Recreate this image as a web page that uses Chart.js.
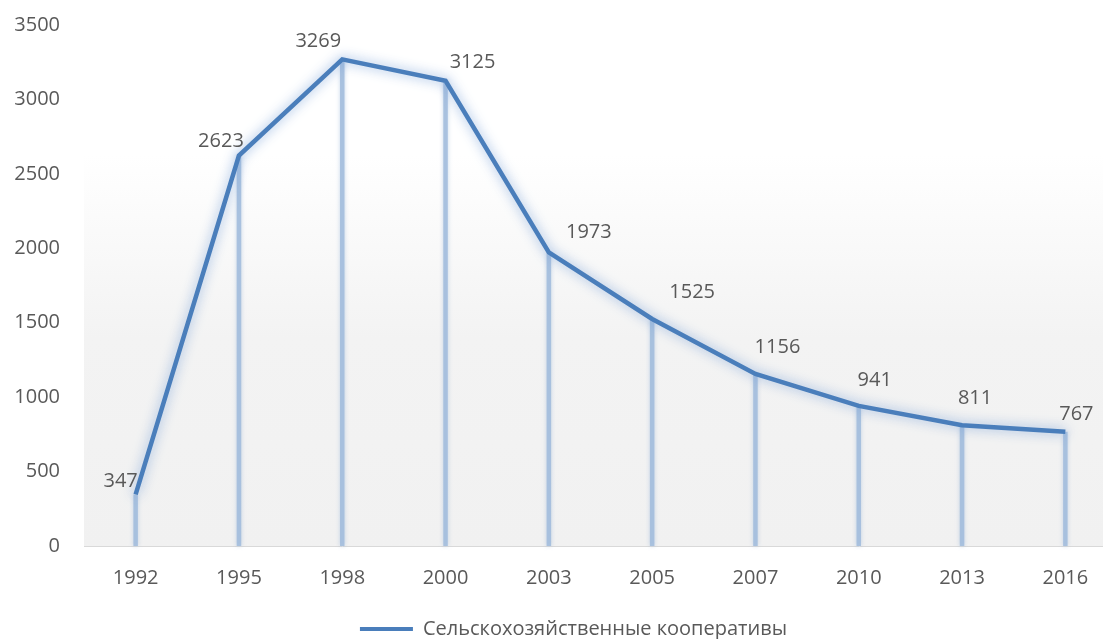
<!DOCTYPE html>
<html>
<head>
<meta charset="utf-8">
<script src="https://cdn.jsdelivr.net/npm/chart.js@4"></script>
<style>
    html, body { margin: 0; padding: 0; background: #ffffff; overflow: hidden; }
    #wrap { position: absolute; left: 0; top: 0; width: 1117px; height: 639px; }
</style>
</head>
<body>
<div id="wrap"><canvas id="grafico"></canvas></div>
<script>
// Данные графика
const годы = ['1992', '1995', '1998', '2000', '2003', '2005', '2007', '2010', '2013', '2016'];
const кооперативы = [347, 2623, 3269, 3125, 1973, 1525, 1156, 941, 811, 767];
const деленияY = [0, 500, 1000, 1500, 2000, 2500, 3000, 3500];
const названиеРяда = 'Сельскохозяйственные кооперативы';

// Смещения подписей относительно точек (в пикселях)
const смещенияПодписей = [
    [-15, -13], [-18, -14], [-24, -18], [27, -19], [40, -20],
    [40, -27], [22, -27], [16, -26], [13, -27], [11, -18]
];

const цвета = {
    линия: '#4a7ebb',
    свечение: 'rgba(120, 160, 215, 0.85)',
    опоры: 'rgba(160, 187, 220, 0.85)',
    текст: '#595959',
    ось: '#d9d9d9'
};

const шрифт = '"Open Sans", "Noto Sans", sans-serif';

// Фон области построения с градиентом
const фонОбласти = {
    id: 'fonOblasti',
    beforeDraw(chart) {
        const { ctx, chartArea: a } = chart;
        const g = ctx.createLinearGradient(0, a.top, 0, a.bottom);
        g.addColorStop(0, '#ffffff');
        g.addColorStop(0.25, '#ffffff');
        g.addColorStop(0.6, '#f3f3f3');
        g.addColorStop(1, '#f1f1f1');
        ctx.save();
        ctx.fillStyle = g;
        ctx.fillRect(a.left, a.top, a.right - a.left, a.bottom - a.top);
        ctx.restore();
    }
};

// Сдвиг легенды (в Excel она центрирована по области построения)
const сдвигЛегенды = {
    id: 'sdvigLegendy',
    afterLayout(chart) {
        const l = chart.legend;
        if (!l) return;
        l.left += 15; l.right += 15;
        l.top += 10; l.bottom += 10;
    }
};

// Вертикальные линии от точек к оси
const линииОпоры = {
    id: 'liniiOpory',
    beforeDatasetsDraw(chart) {
        const { ctx, chartArea: a } = chart;
        const meta = chart.getDatasetMeta(0);
        ctx.save();
        ctx.strokeStyle = цвета.опоры;
        ctx.lineWidth = 4.5;
        ctx.shadowColor = 'rgba(160, 187, 220, 0.7)';
        ctx.shadowBlur = 4;
        meta.data.forEach(p => {
            ctx.beginPath();
            ctx.moveTo(p.x, p.y);
            ctx.lineTo(p.x, a.bottom);
            ctx.stroke();
        });
        ctx.restore();
    }
};

// Свечение линии
const свечение = {
    id: 'svechenie',
    beforeDatasetDraw(chart) {
        chart.ctx.save();
        chart.ctx.shadowColor = цвета.свечение;
        chart.ctx.shadowBlur = 12;
    },
    afterDatasetDraw(chart) {
        chart.ctx.restore();
    }
};

// Подписи значений
const подписи = {
    id: 'podpisi',
    afterDatasetsDraw(chart) {
        const { ctx } = chart;
        const meta = chart.getDatasetMeta(0);
        ctx.save();
        ctx.font = '20px ' + шрифт;
        ctx.fillStyle = цвета.текст;
        ctx.textAlign = 'center';
        ctx.textBaseline = 'middle';
        meta.data.forEach((p, i) => {
            const [dx, dy] = смещенияПодписей[i];
            ctx.fillText(String(кооперативы[i]), p.x + dx, p.y + dy);
        });
        ctx.restore();
    }
};

new Chart(document.getElementById('grafico'), {
    type: 'line',
    data: {
        labels: годы,
        datasets: [{
            label: названиеРяда,
            data: кооперативы,
            borderColor: цвета.линия,
            backgroundColor: цвета.линия,
            borderWidth: 4.5,
            tension: 0,
            pointRadius: 0,
            fill: false
        }]
    },
    options: {
        responsive: true,
        maintainAspectRatio: false,
        animation: false,
        layout: { padding: { left: 0, right: 0, top: 0, bottom: 0 } },
        plugins: {
            tooltip: { enabled: false },
            legend: {
                position: 'bottom',
                labels: {
                    color: цвета.текст,
                    font: { family: шрифт, size: 20 },
                    boxWidth: 53,
                    boxHeight: 4,
                    padding: 4,
                    generateLabels(chart) {
                        return [{
                            text: названиеРяда,
                            fillStyle: цвета.линия,
                            strokeStyle: цвета.линия,
                            lineWidth: 0,
                            fontColor: цвета.текст,
                            datasetIndex: 0
                        }];
                    }
                }
            }
        },
        scales: {
            x: {
                offset: true,
                afterFit(scale) { scale.height -= 5; },
                grid: { display: false, drawTicks: false, offset: true },
                border: { display: true, color: цвета.ось, width: 1 },
                ticks: {
                    color: цвета.текст,
                    font: { family: шрифт, size: 20 },
                    padding: 20,
                    maxRotation: 0
                }
            },
            y: {
                min: 0,
                max: 3500,
                afterFit(scale) {
                    scale.width = 84;
                    scale.paddingTop = 25;
                    scale.paddingBottom = 0;
                },
                afterBuildTicks(scale) {
                    scale.ticks = деленияY.map(v => ({ value: v }));
                },
                grid: { display: false, drawTicks: false },
                border: { display: false },
                ticks: {
                    color: цвета.текст,
                    font: { family: шрифт, size: 20 },
                    padding: 24,
                    callback: v => String(v)
                }
            }
        }
    },
    plugins: [фонОбласти, сдвигЛегенды, линииОпоры, свечение, подписи]
});
</script>
</body>
</html>
